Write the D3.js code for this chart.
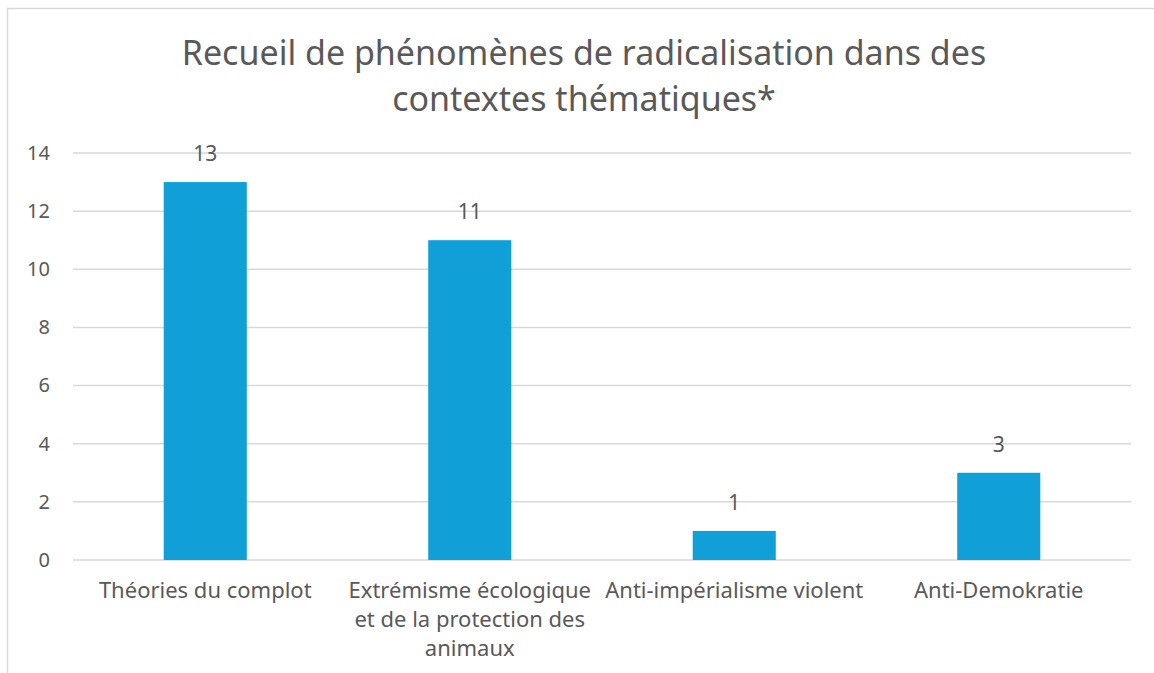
<!DOCTYPE html>
<html>
<head>
<meta charset="utf-8">
<script src="https://cdn.jsdelivr.net/npm/d3@7"></script>
<style>
  body { margin: 0; background: #fff; }
  text { font-family: "Noto Sans", "DejaVu Sans", sans-serif; fill: #595959; }
</style>
</head>
<body>
<div id="chart"></div>
<script>
var categories = ["Théories du complot", "Extrémisme écologique\net de la protection des\nanimaux", "Anti-impérialisme violent", "Anti-Demokratie"];
var values = [13, 11, 1, 3];
var yTicks = [0, 2, 4, 6, 8, 10, 12, 14];
var titleLines = ["Recueil de phénomènes de radicalisation dans des", "contextes thématiques*"];

var width = 1154,
	height = 673,
	margin = {top: 153, right: 23, bottom: 113, left: 73};

var svg = d3.select("#chart").append("svg")
	.attr("width", width)
	.attr("height", height);

// chart frame (only left and top edge are visible in the crop)
svg.append("path")
	.attr("d", "M7.5," + height + "V8.5H" + width)
	.attr("fill", "none")
	.attr("stroke", "#d9d9d9")
	.attr("stroke-width", 1.5);

var x = d3.scaleBand()
	.domain(categories)
	.range([margin.left, width - margin.right])
	.paddingInner(0.686)
	.paddingOuter(0.343);

var y = d3.scaleLinear()
	.domain([0, 14])
	.range([height - margin.bottom, margin.top]);

// gridlines
svg.append("g")
	.selectAll("line")
	.data(yTicks)
	.enter().append("line")
		.attr("x1", margin.left)
		.attr("x2", width - margin.right)
		.attr("y1", function(d) { return y(d); })
		.attr("y2", function(d) { return y(d); })
		.attr("stroke", "#d9d9d9")
		.attr("stroke-width", 1.5);

// y axis labels
var yAxis = d3.axisLeft(y).tickValues(yTicks).tickSize(0).tickPadding(0);
var yg = svg.append("g")
	.attr("transform", "translate(" + (margin.left - 23) + ",0)")
	.call(yAxis);
yg.select(".domain").remove();
yg.selectAll("text")
	.style("font-size", "20px")
	.style("font-family", null)
	.attr("fill", null);

// bars
svg.append("g")
	.selectAll("rect")
	.data(values)
	.enter().append("rect")
		.attr("x", function(d, i) { return x(categories[i]); })
		.attr("y", function(d) { return y(d); })
		.attr("width", x.bandwidth())
		.attr("height", function(d) { return y(0) - y(d); })
		.attr("fill", "#109fd7");

// data labels
svg.append("g")
	.selectAll("text")
	.data(values)
	.enter().append("text")
		.attr("x", function(d, i) { return x(categories[i]) + x.bandwidth() / 2; })
		.attr("y", function(d) { return y(d) - 21; })
		.attr("text-anchor", "middle")
		.style("font-size", "21px")
		.text(function(d) { return d; });

// category labels, wrapped like the original
var xg = svg.append("g");
categories.forEach(function(c) {
	var t = xg.append("text")
		.attr("x", x(c) + x.bandwidth() / 2)
		.attr("y", height - margin.bottom + 38)
		.attr("text-anchor", "middle")
		.style("font-size", "22px");
	c.split("\n").forEach(function(line, j) {
		t.append("tspan")
			.attr("x", x(c) + x.bandwidth() / 2)
			.attr("dy", j === 0 ? 0 : 29)
			.text(line);
	});
});

// title
svg.append("g")
	.selectAll("text")
	.data(titleLines)
	.enter().append("text")
		.attr("x", 584)
		.attr("y", function(d, i) { return 65 + i * 46; })
		.attr("text-anchor", "middle")
		.style("font-size", "34px")
		.text(function(d) { return d; });
</script>
</body>
</html>
